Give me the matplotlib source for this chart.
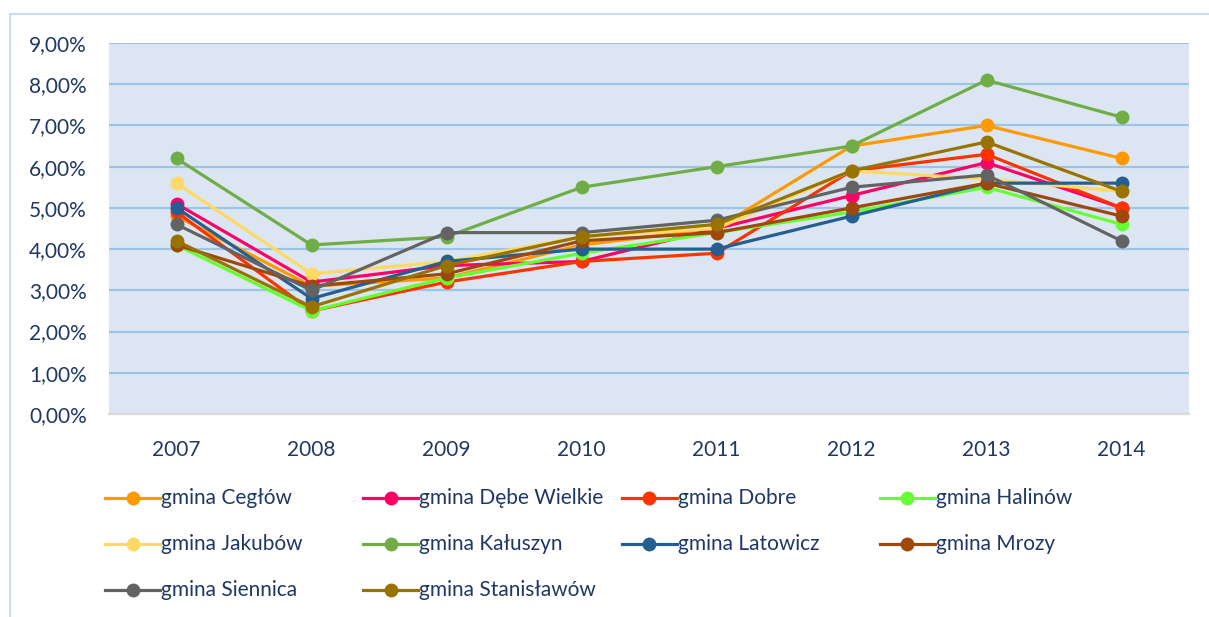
import matplotlib
matplotlib.use("Agg")
import matplotlib.pyplot as plt
from matplotlib.lines import Line2D
from matplotlib.patches import Rectangle
from matplotlib.ticker import FuncFormatter, MultipleLocator

years = ["2007", "2008", "2009", "2010", "2011", "2012", "2013", "2014"]

ceglow       = [4.8, 3.1, 3.3, 4.1, 4.5, 6.5, 7.0, 6.2]
debe_wielkie = [5.1, 3.2, 3.6, 3.7, 4.5, 5.3, 6.1, 5.0]
dobre        = [4.9, 2.5, 3.2, 3.7, 3.9, 5.9, 6.3, 5.0]
halinow      = [4.1, 2.5, 3.3, 3.9, 4.4, 4.9, 5.5, 4.6]
jakubow      = [5.6, 3.4, 3.7, 4.3, 4.5, 5.9, 5.7, 5.4]
kaluszyn     = [6.2, 4.1, 4.3, 5.5, 6.0, 6.5, 8.1, 7.2]
latowicz     = [5.0, 2.8, 3.7, 4.0, 4.0, 4.8, 5.6, 5.6]
mrozy        = [4.1, 3.1, 3.4, 4.2, 4.4, 5.0, 5.6, 4.8]
siennica     = [4.6, 3.0, 4.4, 4.4, 4.7, 5.5, 5.8, 4.2]
stanislawow  = [4.2, 2.6, 3.6, 4.3, 4.6, 5.9, 6.6, 5.4]

names = ["gmina Cegłów", "gmina Dębe Wielkie", "gmina Dobre", "gmina Halinów",
         "gmina Jakubów", "gmina Kałuszyn", "gmina Latowicz", "gmina Mrozy",
         "gmina Siennica", "gmina Stanisławów"]
series = [ceglow, debe_wielkie, dobre, halinow, jakubow, kaluszyn, latowicz,
          mrozy, siennica, stanislawow]
colors = ["#FF9900", "#FF0066", "#FF3300", "#66FF33", "#FFD966", "#70AD47",
          "#255E91", "#9E480E", "#636363", "#997300"]

TEXT = "#1F3864"
FS = 15
plt.rcParams['font.family'] = ['Lato', 'DejaVu Sans']

W, H = 1209, 617
fig = plt.figure(figsize=(W / 100, H / 100), dpi=100)
fig.patch.set_facecolor("white")

# chart border (partially visible)
fig.add_artist(Rectangle((10 / W, -0.05), 1.2, 1 - 14 / H + 0.05,
                         transform=fig.transFigure, fill=False,
                         edgecolor="#BDD7EE", linewidth=1.2))

ax = fig.add_axes([109 / W, (H - 414) / H, (1189 - 109) / W, (414 - 43) / H])
ax.set_facecolor("#DCE6F2")
x = list(range(len(years)))
for vals, c in zip(series, colors):
    ax.plot(x, vals, color=c, linewidth=2.3, marker="o", markersize=10,
            markeredgewidth=0, solid_capstyle="round", zorder=3)

ax.set_xlim(-0.5, len(years) - 0.5)
ax.set_ylim(0, 9)
ax.yaxis.set_major_locator(MultipleLocator(1))
ax.yaxis.set_major_formatter(FuncFormatter(lambda v, p: f"{v:.2f}%".replace(".", ",")))
ax.set_xticks(x)
ax.set_xticklabels(years)
ax.grid(axis="y", color="#9DC3E6", linewidth=1.6, zorder=1)
ax.set_axisbelow(True)
for s in ["top", "right", "left"]:
    ax.spines[s].set_visible(False)
ax.spines["bottom"].set_color("#D9D9D9")
ax.spines["bottom"].set_linewidth(1.6)
ax.tick_params(axis="both", length=0, labelsize=FS, labelcolor=TEXT)
ax.tick_params(axis="y", pad=16)
ax.tick_params(axis="x", pad=19)

# legend, Excel-style equal columns
for i, (name, c) in enumerate(zip(names, colors)):
    col, row = i % 4, i // 4
    x0 = 105 + col * 258.3
    y0 = 498 + row * 46
    fig.add_artist(Line2D([x0 / W, (x0 + 55) / W], [1 - y0 / H, 1 - y0 / H],
                          transform=fig.transFigure, color=c, linewidth=2.3))
    fig.add_artist(Line2D([(x0 + 27.5) / W], [1 - y0 / H], transform=fig.transFigure,
                          color=c, marker="o", markersize=10, markeredgewidth=0))
    fig.text((x0 + 56) / W, 1 - y0 / H, name, color=TEXT, fontsize=FS,
             va="center", ha="left")

fig.savefig("out.png", dpi=100, facecolor="white")
